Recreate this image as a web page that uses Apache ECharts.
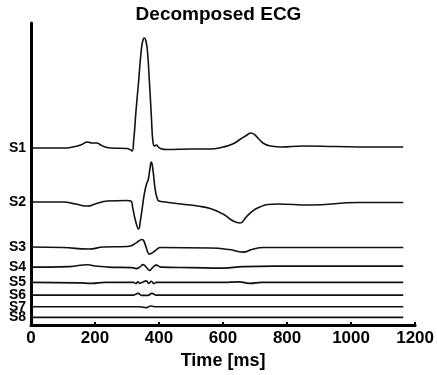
<!DOCTYPE html>
<html>
<head>
<meta charset="utf-8">
<script src="https://cdn.jsdelivr.net/npm/echarts@6/dist/echarts.min.js"></script>
<style>html,body{margin:0;padding:0;background:#fff}#c{width:437px;height:375px}</style>
</head>
<body>
<div id="c"></div>
<script>
// Signal names and vertical offsets (stacking position of each trace)
const names = ['S1','S2','S3','S4','S5','S6','S7','S8'];
const offsets = [177, 123, 77.5, 58, 42.7, 30, 18.3, 7.7];
const xTicks = [0, 200, 400, 600, 800, 1000, 1200];

// Each trace: [time ms, amplitude relative to its own baseline]
const s1 = [[0,0],[100,0],[130,1],[155,3],[177,6],[190,5],[205,5],[218,3],[232,1],[250,0],[300,-0.5],[312,-2],[316,-3],[321,8],[328,37],[336,66],[344,96],[349,107],[354,110],[359,107],[364,96],[370,66],[376,32],[381,6],[386,2],[392,3],[398,1],[408,-1],[425,-1.5],[500,-1],[560,-1],[600,1],[630,4],[655,9],[675,13],[687,15],[700,13],[715,8],[730,4],[750,2],[780,1],[850,2],[950,1.5],[1050,1],[1163,1]];
const s2 = [[0,0],[100,0],[140,-2],[177,-4],[200,-2],[239,1],[300,1.5],[312,1],[318,-6],[326,-18],[336,-27],[342,-18],[348,-5],[355,10],[362,19],[366,22],[371,32],[376,40],[381,32],[387,15],[393,5],[400,1],[420,0],[470,-2],[520,-4],[560,-6.5],[600,-12],[632,-19],[653,-21],[672,-15],[692,-9],[715,-5],[740,-2.5],[770,-2],[870,-3],[1026,-0.5],[1163,-0.5]];
const s3 = [[0,0.5],[100,0],[180,-1.5],[227,0.5],[300,1],[315,2],[330,5],[347,8],[358,2],[364,-4],[370,-6.5],[380,-5],[392,-2],[404,0],[560,-0.5],[620,-2],[663,-4.5],[690,-2],[725,0],[1163,0]];
const s4 = [[0,0],[120,0.5],[177,2.4],[200,1],[240,0],[315,-0.5],[329,-1.5],[340,0],[350,2.5],[360,0],[370,-3.3],[380,-0.5],[392,2],[405,0],[500,-0.5],[600,-1],[663,0.5],[760,1],[1163,1]];
const s5 = [[0,0],[150,-0.5],[190,-1],[230,0],[320,0],[328,-1.2],[334,0.5],[340,-1],[350,0.5],[360,1.5],[368,-1],[376,1.2],[384,-1.2],[392,0],[600,0],[650,0.5],[684,-1],[720,0],[1163,0]];
const s6 = [[0,0],[320,0],[335,1.7],[345,-0.3],[365,-0.3],[378,1.7],[390,0],[1163,0]];
const s7 = [[0,0],[340,0],[360,-0.8],[375,0.8],[390,0],[1163,0]];
const s8 = [[0,0],[1163,0]];
const traces = [s1, s2, s3, s4, s5, s6, s7, s8];

const FONT = 'Liberation Sans, Arial, sans-serif';
function nameOf(v) {
  let best = 0, d = Infinity;
  offsets.forEach((o, i) => { if (Math.abs(o - v) < d) { d = Math.abs(o - v); best = i; } });
  return names[best];
}
function yAxisFor(parity, showLine) {
  return {
    type: 'value', min: 0, max: 302, position: 'left', offset: 0,
    axisLine: {show: showLine, lineStyle: {color: '#000', width: 3}},
    axisTick: {show: false},
    axisLabel: {
      customValues: offsets.filter((o, i) => i % 2 === parity),
      hideOverlap: false,
      fontFamily: FONT, fontWeight: 'bold', fontSize: 14, color: '#000', margin: 5,
      formatter: nameOf
    },
    splitLine: {show: false}
  };
}
const chart = echarts.init(document.getElementById('c'), null, {renderer: 'canvas'});
chart.setOption({
  animation: false,
  backgroundColor: '#fff',
  title: {
    text: 'Decomposed ECG', left: 'center', top: 0,
    textStyle: {fontFamily: FONT, fontWeight: 'bold', fontSize: 19, color: '#000'}
  },
  grid: {left: 31, right: 21, top: 23, bottom: 49.5, containLabel: false},
  xAxis: {
    type: 'value', min: 0, max: 1200, interval: 200,
    name: 'Time [ms]', nameLocation: 'middle', nameGap: 23,
    nameTextStyle: {fontFamily: FONT, fontWeight: 'bold', fontSize: 18, color: '#000'},
    axisLine: {show: true, onZero: false, lineStyle: {color: '#000', width: 3}},
    axisTick: {show: true, inside: true, length: 3, lineStyle: {color: '#000', width: 2}},
    axisLabel: {fontFamily: FONT, fontWeight: 'bold', fontSize: 17, color: '#000', margin: 5,
      formatter: v => xTicks.includes(v) ? String(v) : ''},
    splitLine: {show: false}
  },
  yAxis: [yAxisFor(0, true), yAxisFor(1, false)],
  series: traces.map((tr, i) => ({
    name: names[i], type: 'line', smooth: 0.5, yAxisIndex: 0,
    showSymbol: false, symbol: 'none',
    lineStyle: {color: '#111', width: 1.6},
    data: tr.map(p => [p[0], p[1] + offsets[i]])
  }))
});
</script>
</body>
</html>
